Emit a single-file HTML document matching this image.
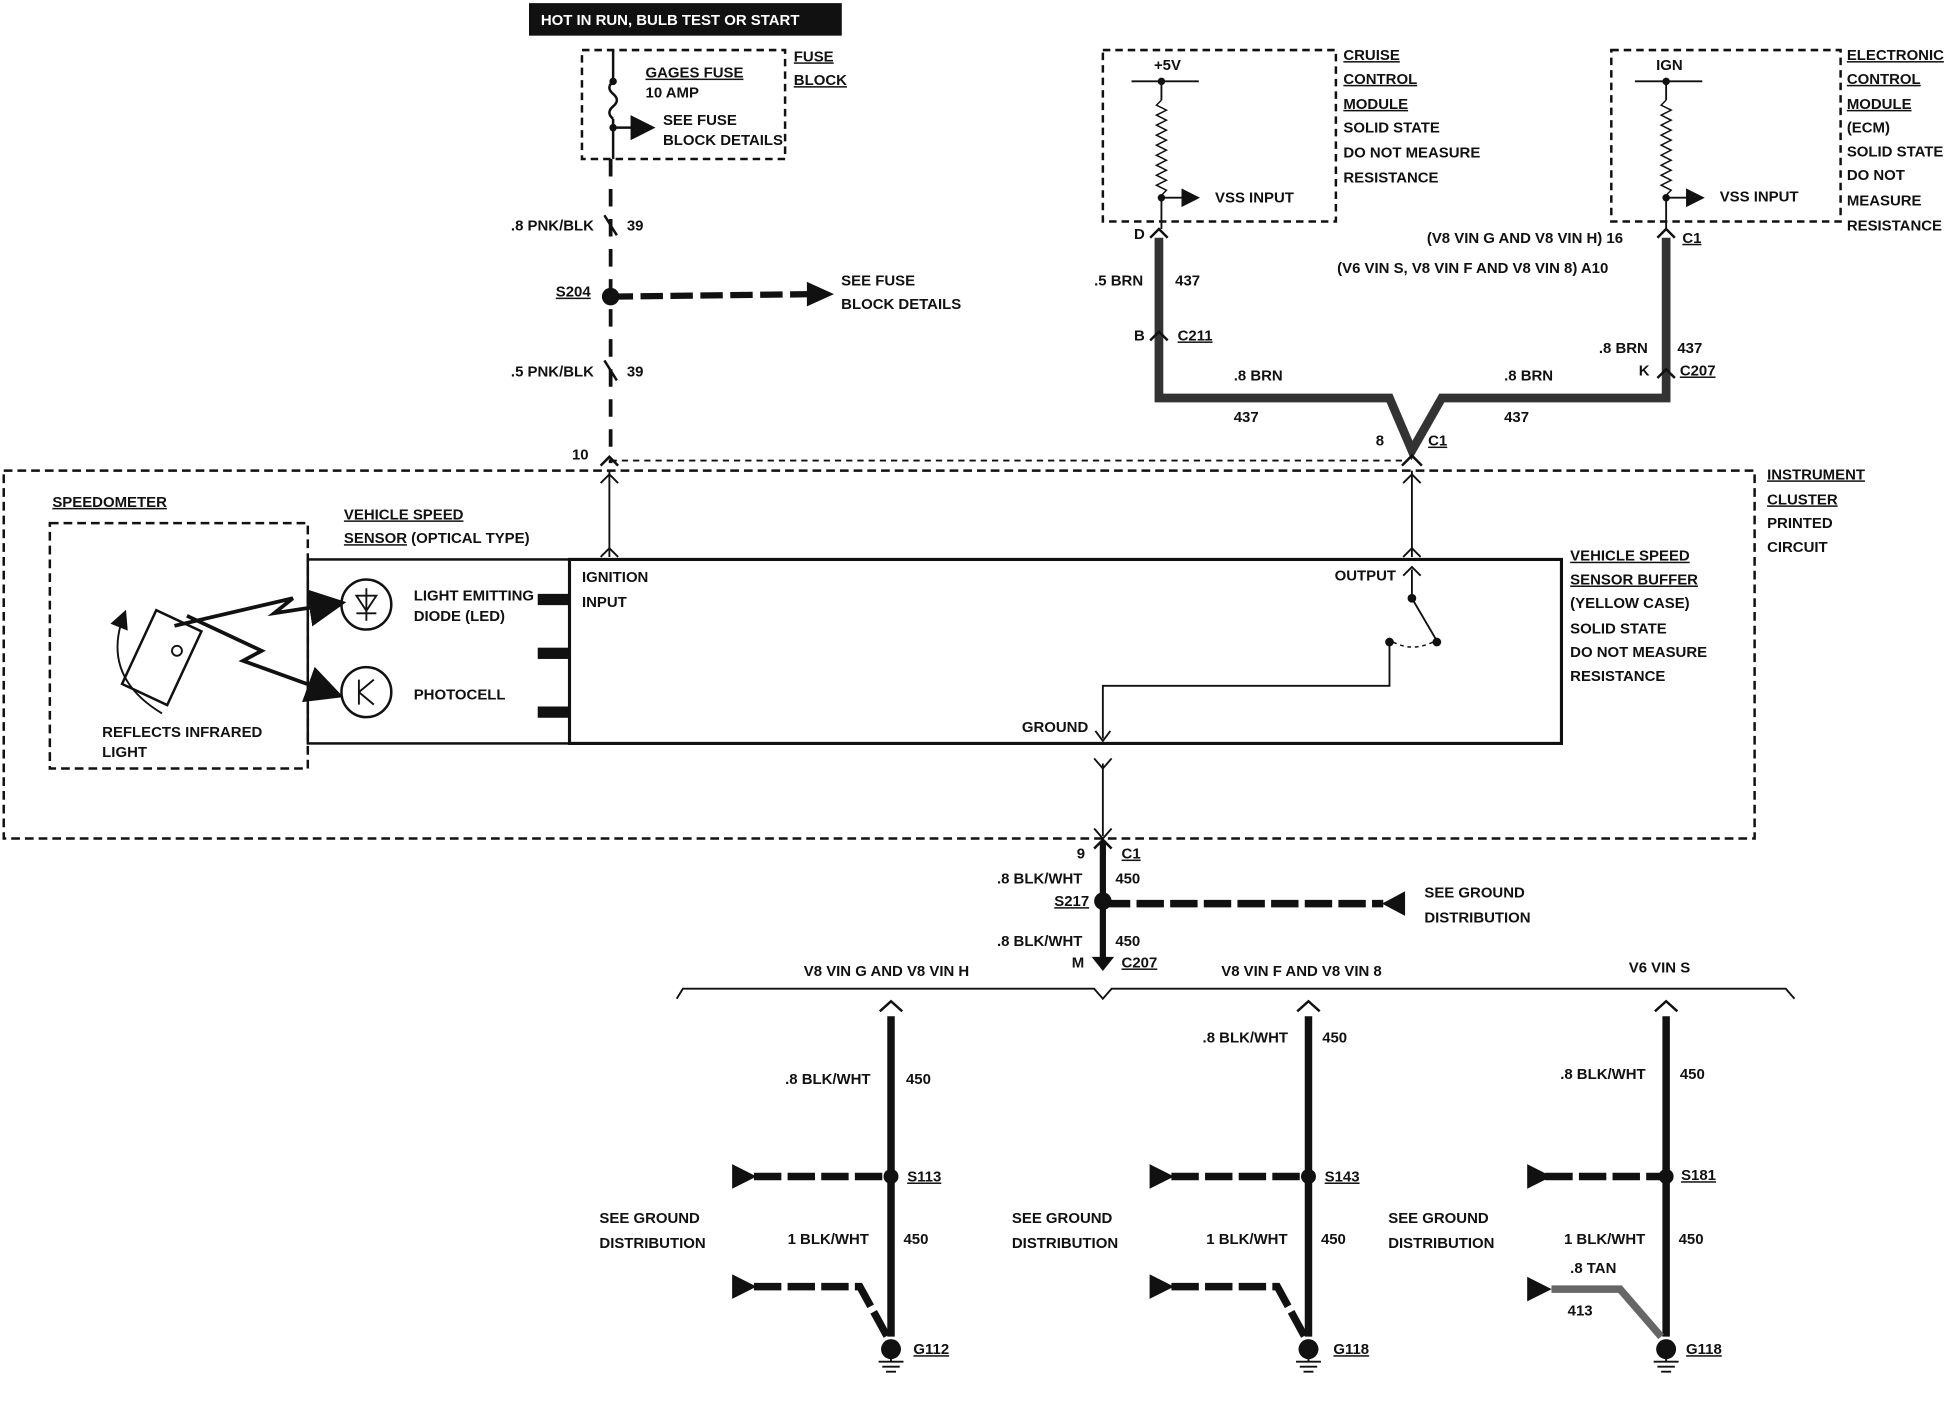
<!DOCTYPE html>
<html><head><meta charset="utf-8"><style>
html,body{margin:0;padding:0;background:#fff;}
svg{display:block;}
text{font-family:"Liberation Sans",sans-serif;font-weight:bold;font-size:12px;fill:#111;}
</style></head><body>
<svg width="1954" height="1408" viewBox="0 0 1568 1125" preserveAspectRatio="none" xmlns="http://www.w3.org/2000/svg">
<defs>
<marker id="ar" markerWidth="10" markerHeight="10" refX="8" refY="5" orient="auto"><path d="M0,0 L10,5 L0,10 z" fill="#111"/></marker>
</defs>
<g stroke="#111" fill="none">
<!-- top label -->
<rect x="425" y="3" width="250" height="25" fill="#111"/>
<!-- fuse box -->
<rect x="467" y="40" width="163" height="87" stroke-width="2" stroke-dasharray="6,4"/>
<line x1="492" y1="40" x2="492" y2="65" stroke-width="2"/>
<path d="M492,65 q-6,5 0,10 q6,5 0,10 q-6,5 0,10" stroke-width="2"/>
<line x1="492" y1="95" x2="492" y2="127" stroke-width="2"/>
<line x1="492" y1="102" x2="522" y2="102" stroke-width="2" marker-end="url(#ar)"/>
<!-- fuse to cluster dashed wire -->
<line x1="490" y1="127" x2="490" y2="370" stroke-width="3" stroke-dasharray="14,10"/>
<line x1="485" y1="172" x2="495" y2="188" stroke-width="2"/>
<line x1="485" y1="288" x2="495" y2="304" stroke-width="2"/>
<line x1="490" y1="237" x2="655" y2="235" stroke-width="5" stroke-dasharray="18,6"/>
<path d="M648,226 L668,235 L648,244 z" fill="#111"/>
<line x1="490" y1="368" x2="1130" y2="368" stroke-width="1.5" stroke-dasharray="5,4"/>
<path d="M482,372 l7,-7 l7,7" stroke-width="2"/>
<!-- cruise module -->
<rect x="885" y="40" width="187" height="137" stroke-width="2" stroke-dasharray="6,4"/>
<line x1="908" y1="65" x2="962" y2="65" stroke-width="1.5"/>
<line x1="932" y1="65" x2="932" y2="80" stroke-width="1.5"/>
<path d="M932,80 l-4,4 l8,4 l-8,4 l8,4 l-8,4 l8,4 l-8,4 l8,4 l-8,4 l8,4 l-8,4 l8,4 l-8,4 l8,4 l-8,4 l8,4 l-8,4 l8,4 l-4,4" stroke-width="1.2"/>
<line x1="932" y1="158" x2="932" y2="183" stroke-width="1.5"/>
<line x1="932" y1="158" x2="960" y2="158" stroke-width="1.5" marker-end="url(#ar)"/>
<!-- ECM -->
<rect x="1293" y="40" width="184" height="137" stroke-width="2" stroke-dasharray="6,4"/>
<line x1="1312" y1="65" x2="1366" y2="65" stroke-width="1.5"/>
<line x1="1337" y1="65" x2="1337" y2="80" stroke-width="1.5"/>
<path d="M1337,80 l-4,4 l8,4 l-8,4 l8,4 l-8,4 l8,4 l-8,4 l8,4 l-8,4 l8,4 l-8,4 l8,4 l-8,4 l8,4 l-8,4 l8,4 l-8,4 l8,4 l-4,4" stroke-width="1.2"/>
<line x1="1337" y1="158" x2="1337" y2="183" stroke-width="1.5"/>
<line x1="1337" y1="158" x2="1365" y2="158" stroke-width="1.5" marker-end="url(#ar)"/>
<!-- thick BRN wires -->
<path d="M930,190 V318 H1115 L1133,360 L1157,318 H1337 V190" stroke-width="7" stroke="#333"/>
<path d="M923,190 l7,-7 l7,7 M923,272 l7,-7 l7,7 M1330,190 l7,-7 l7,7 M1330,302 l7,-7 l7,7" stroke-width="2"/>
<path d="M1125,372 l8,-8 l8,8" stroke-width="2"/>
<!-- instrument cluster -->
<rect x="3" y="376" width="1405" height="294" stroke-width="2" stroke-dasharray="7,4"/>
<line x1="489" y1="376" x2="489" y2="445" stroke-width="1.5"/>
<path d="M482,445 l7,-7 l7,7 M482,386 l7,-7 l7,7" stroke-width="1.5"/>
<line x1="1133" y1="376" x2="1133" y2="445" stroke-width="1.5"/>
<path d="M1126,445 l7,-7 l7,7 M1126,386 l7,-7 l7,7" stroke-width="1.5"/>
<!-- speedometer -->
<rect x="40" y="418" width="207" height="196" stroke-width="2" stroke-dasharray="7,4"/>
<rect x="247" y="447" width="210" height="147" stroke-width="2"/>
<rect x="457" y="447" width="796" height="147" stroke-width="2.5"/>
<rect x="432" y="475" width="25" height="8" fill="#111"/>
<rect x="432" y="518" width="25" height="8" fill="#111"/>
<rect x="432" y="565" width="25" height="8" fill="#111"/>
<rect x="110" y="493" width="40" height="65" transform="rotate(25 130 525)" stroke-width="2"/>
<circle cx="142" cy="520" r="4" stroke-width="1.5"/>
<path d="M130,570 Q80,540 100,490" stroke-width="1.5" marker-end="url(#ar)"/>
<path d="M140,500 L235,478 L220,490 L272,482" stroke-width="3" marker-end="url(#ar)"/>
<path d="M150,492 L210,520 L195,528 L270,555" stroke-width="3" marker-end="url(#ar)"/>
<circle cx="294" cy="483" r="20" stroke-width="2"/>
<circle cx="294" cy="553" r="20" stroke-width="2"/>
<path d="M286,476 h16 l-8,12 z M286,490 h16 M294,470 v26" stroke-width="1.5"/>
<path d="M288,543 v20 M288,553 l12,-10 M288,553 l12,10" stroke-width="1.5"/>
<!-- buffer internals -->
<line x1="1133" y1="455" x2="1133" y2="478" stroke-width="1.5"/>
<path d="M1126,460 l7,-7 l7,7" stroke-width="1.5"/>
<line x1="1133" y1="478" x2="1153" y2="512" stroke-width="1.5"/>
<circle cx="1133" cy="478" r="3" fill="#111"/><circle cx="1153" cy="513" r="3" fill="#111"/><circle cx="1115" cy="513" r="3" fill="#111"/>
<path d="M1118,513 q15,8 32,0" stroke-width="1.2" stroke-dasharray="3,3"/>
<path d="M1115,513 V548 H885 V590" stroke-width="1.5"/>
<path d="M879,584 l6,8 l6,-8" stroke-width="1.5"/>
<!-- ground wire -->
<line x1="885" y1="610" x2="885" y2="668" stroke-width="1.5"/>
<path d="M878,606 l7,8 l7,-8 M878,662 l7,8 l7,-8" stroke-width="1.5"/>
<line x1="885" y1="672" x2="885" y2="770" stroke-width="5"/>
<path d="M878,678 l7,-7 l7,7" stroke-width="2"/>
<path d="M877,765 l8,10 l8,-10 z" fill="#111"/>
<line x1="885" y1="722" x2="1110" y2="722" stroke-width="6" stroke-dasharray="22,5"/>
<path d="M1127,713 L1110,722 L1127,731 z" fill="#111"/>
<!-- bracket -->
<path d="M543,798 L548,790 H878 L885,798 L892,790 H1433 L1440,798" stroke-width="1.5"/>
<!-- ground columns -->
<g stroke-width="6">
<line x1="715" y1="812" x2="715" y2="1068"/><line x1="1050" y1="812" x2="1050" y2="1068"/><line x1="1337" y1="812" x2="1337" y2="1068"/>
<line x1="605" y1="940" x2="710" y2="940" stroke-dasharray="22,5"/>
<line x1="940" y1="940" x2="1045" y2="940" stroke-dasharray="22,5"/>
<line x1="1240" y1="940" x2="1332" y2="940" stroke-dasharray="22,5"/>
<path d="M605,1028 H690 L712,1068" stroke-dasharray="22,5"/>
<path d="M940,1028 H1025 L1047,1068" stroke-dasharray="22,5"/>
<path d="M1245,1030 H1300 L1333,1068" stroke="#666"/>
</g>
<path d="M706,808 l9,-8 l9,8 M1041,808 l9,-8 l9,8 M1328,808 l9,-8 l9,8" stroke-width="2"/>
<path d="M588,931 L606,940 L588,949 z M923,931 L941,940 L923,949 z M1226,931 L1244,940 L1226,949 z M588,1019 L606,1028 L588,1037 z M923,1019 L941,1028 L923,1037 z M1226,1021 L1244,1030 L1226,1039 z" fill="#111"/>
<g stroke-width="1.5">
<path d="M705,1088 h20 M708,1092 h14 M711,1096 h8 M715,1080 v8"/>
<path d="M1040,1088 h20 M1043,1092 h14 M1046,1096 h8 M1050,1080 v8"/>
<path d="M1327,1088 h20 M1330,1092 h14 M1333,1096 h8 M1337,1080 v8"/>
</g>
</g>
<g fill="#111">
<circle cx="490" cy="237" r="7"/><circle cx="885" cy="720" r="7"/>
<circle cx="715" cy="940" r="6"/><circle cx="1050" cy="940" r="6"/><circle cx="1337" cy="940" r="6"/>
<circle cx="715" cy="1078" r="8"/><circle cx="1050" cy="1078" r="8"/><circle cx="1337" cy="1078" r="8"/>
<circle cx="492" cy="65" r="3"/><circle cx="492" cy="102" r="3"/><circle cx="932" cy="65" r="3"/><circle cx="932" cy="158" r="3"/><circle cx="1337" cy="65" r="3"/><circle cx="1337" cy="158" r="3"/>
</g>
<g>
<text x="434" y="20" style="fill:#fff;font-size:12px">HOT IN RUN, BULB TEST OR START</text>
<text x="518" y="62" text-decoration="underline">GAGES FUSE</text>
<text x="518" y="78" font-size="10">10 AMP</text>
<text x="532" y="100" font-size="11">SEE FUSE</text>
<text x="532" y="116" font-size="11">BLOCK DETAILS</text>
<text x="637" y="49" text-decoration="underline">FUSE</text>
<text x="637" y="68" text-decoration="underline">BLOCK</text>
<text x="410" y="184">.8 PNK/BLK</text><text x="503" y="184">39</text>
<text x="446" y="237" text-decoration="underline">S204</text>
<text x="675" y="228">SEE FUSE</text><text x="675" y="247">BLOCK DETAILS</text>
<text x="410" y="301">.5 PNK/BLK</text><text x="503" y="301">39</text>
<text x="459" y="367">10</text>
<text x="926" y="56" font-size="10">+5V</text>
<text x="975" y="162" font-size="10">VSS INPUT</text>
<text x="1329" y="56" font-size="11">IGN</text>
<text x="1380" y="161" font-size="10">VSS INPUT</text>
<text x="1078" y="48" text-decoration="underline">CRUISE</text>
<text x="1078" y="67" text-decoration="underline">CONTROL</text>
<text x="1078" y="87" text-decoration="underline">MODULE</text>
<text x="1078" y="106">SOLID STATE</text>
<text x="1078" y="126">DO NOT MEASURE</text>
<text x="1078" y="146">RESISTANCE</text>
<text x="1482" y="48" text-decoration="underline">ELECTRONIC</text>
<text x="1482" y="67" text-decoration="underline">CONTROL</text>
<text x="1482" y="87" text-decoration="underline">MODULE</text>
<text x="1482" y="106">(ECM)</text>
<text x="1482" y="125">SOLID STATE</text>
<text x="1482" y="144">DO NOT</text>
<text x="1482" y="164">MEASURE</text>
<text x="1482" y="184">RESISTANCE</text>
<text x="910" y="191">D</text>
<text x="1145" y="194">(V8 VIN G AND V8 VIN H) 16</text><text x="1350" y="194" text-decoration="underline">C1</text>
<text x="1073" y="218">(V6 VIN S, V8 VIN F AND V8 VIN 8)  A10</text>
<text x="878" y="228">.5 BRN</text><text x="943" y="228">437</text>
<text x="910" y="272">B</text><text x="945" y="272" text-decoration="underline">C211</text>
<text x="1283" y="282">.8 BRN</text><text x="1346" y="282">437</text>
<text x="1315" y="300">K</text><text x="1348" y="300" text-decoration="underline">C207</text>
<text x="990" y="304">.8 BRN</text><text x="990" y="337">437</text>
<text x="1207" y="304">.8 BRN</text><text x="1207" y="337">437</text>
<text x="1104" y="356">8</text><text x="1146" y="356" text-decoration="underline">C1</text>
<text x="1418" y="383" text-decoration="underline">INSTRUMENT</text>
<text x="1418" y="403" text-decoration="underline">CLUSTER</text>
<text x="1418" y="422">PRINTED</text>
<text x="1418" y="441">CIRCUIT</text>
<text x="42" y="405" text-decoration="underline">SPEEDOMETER</text>
<text x="276" y="415" text-decoration="underline">VEHICLE SPEED</text>
<text x="276" y="434"><tspan text-decoration="underline">SENSOR</tspan> (OPTICAL TYPE)</text>
<text x="332" y="480" font-size="11">LIGHT EMITTING</text>
<text x="332" y="496" font-size="11">DIODE (LED)</text>
<text x="332" y="559" font-size="11">PHOTOCELL</text>
<text x="82" y="589" font-size="11">REFLECTS INFRARED</text>
<text x="82" y="605" font-size="11">LIGHT</text>
<text x="467" y="465" font-size="11">IGNITION</text>
<text x="467" y="485" font-size="11">INPUT</text>
<text x="1071" y="464" font-size="11">OUTPUT</text>
<text x="820" y="585" font-size="11">GROUND</text>
<text x="1260" y="448" text-decoration="underline">VEHICLE SPEED</text>
<text x="1260" y="467" text-decoration="underline">SENSOR BUFFER</text>
<text x="1260" y="486">(YELLOW CASE)</text>
<text x="1260" y="506">SOLID STATE</text>
<text x="1260" y="525">DO NOT MEASURE</text>
<text x="1260" y="544">RESISTANCE</text>
<text x="864" y="686">9</text><text x="900" y="686" text-decoration="underline">C1</text>
<text x="800" y="706">.8 BLK/WHT</text><text x="895" y="706">450</text>
<text x="846" y="724" text-decoration="underline">S217</text>
<text x="1143" y="717">SEE GROUND</text><text x="1143" y="737">DISTRIBUTION</text>
<text x="800" y="756">.8 BLK/WHT</text><text x="895" y="756">450</text>
<text x="860" y="773">M</text><text x="900" y="773" text-decoration="underline">C207</text>
<text x="645" y="780">V8 VIN G AND V8 VIN H</text>
<text x="980" y="780">V8 VIN F AND V8 VIN 8</text>
<text x="1307" y="777">V6 VIN S</text>
<text x="630" y="866">.8 BLK/WHT</text><text x="727" y="866">450</text>
<text x="965" y="833">.8 BLK/WHT</text><text x="1061" y="833">450</text>
<text x="1252" y="862">.8 BLK/WHT</text><text x="1348" y="862">450</text>
<text x="728" y="944" text-decoration="underline">S113</text>
<text x="1063" y="944" text-decoration="underline">S143</text>
<text x="1349" y="943" text-decoration="underline">S181</text>
<text x="481" y="977">SEE GROUND</text><text x="481" y="997">DISTRIBUTION</text>
<text x="812" y="977">SEE GROUND</text><text x="812" y="997">DISTRIBUTION</text>
<text x="1114" y="977">SEE GROUND</text><text x="1114" y="997">DISTRIBUTION</text>
<text x="632" y="994">1 BLK/WHT</text><text x="725" y="994">450</text>
<text x="968" y="994">1 BLK/WHT</text><text x="1060" y="994">450</text>
<text x="1255" y="994">1 BLK/WHT</text><text x="1347" y="994">450</text>
<text x="1260" y="1017">.8 TAN</text><text x="1258" y="1051">413</text>
<text x="733" y="1082" text-decoration="underline">G112</text>
<text x="1070" y="1082" text-decoration="underline">G118</text>
<text x="1353" y="1082" text-decoration="underline">G118</text>
</g>
</svg>
</body></html>
